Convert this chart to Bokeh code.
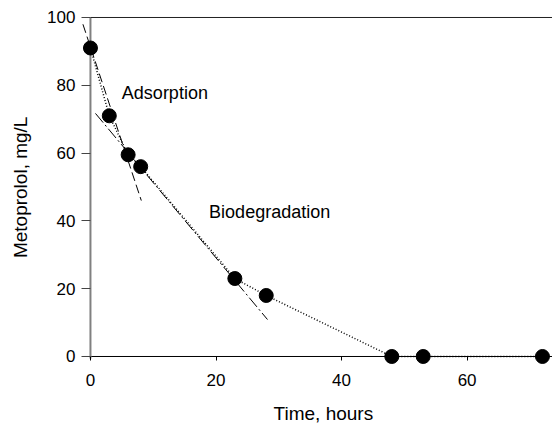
import math
from bokeh.plotting import figure
from bokeh.models import Range1d, LinearAxis, FixedTicker, Label
from bokeh.embed import file_html
from bokeh.resources import INLINE

# Data
time_h = [0, 3, 6, 8, 23, 28, 48, 53, 72]
metoprolol = [91, 71, 59.5, 56, 23, 18, 0, 0, 0]
ads_fit_x = [-1.2, 8.1]
ads_fit_y = [98, 46]
bio_fit_x = [0.8, 28.2]
bio_fit_y = [71.7, 10.9]
x_ticks = [0, 20, 40, 60]
y_ticks = [0, 20, 40, 60, 80, 100]

FONT = "Liberation Sans"

p = figure(width=552, height=426, output_backend="svg", toolbar_location=None,
           x_range=Range1d(-14.33, 73.6), y_range=Range1d(-20.65, 105.01),
           x_axis_location=None, y_axis_location=None,
           min_border_left=0, min_border_right=0, min_border_top=0,
           min_border_bottom=0)
p.outline_line_color = None
p.grid.visible = False
p.background_fill_color = "white"
p.border_fill_color = "white"

xaxis = LinearAxis(fixed_location=0, ticker=FixedTicker(ticks=x_ticks))
xaxis.axis_line_color = None
xaxis.major_tick_in = 0
xaxis.major_tick_out = 4
xaxis.minor_tick_line_color = None
xaxis.major_tick_line_color = "black"
xaxis.major_label_standoff = 14
xaxis.major_label_text_font = FONT
xaxis.major_label_text_font_size = "17px"
xaxis.major_label_text_color = "black"
p.add_layout(xaxis, "below")

yaxis = LinearAxis(fixed_location=0, ticker=FixedTicker(ticks=y_ticks))
yaxis.axis_line_color = None
yaxis.major_tick_in = 0
yaxis.major_tick_out = 9
yaxis.minor_tick_line_color = None
yaxis.major_tick_line_color = "#444444"
yaxis.major_label_standoff = 6
yaxis.major_label_text_font = FONT
yaxis.major_label_text_font_size = "17px"
yaxis.major_label_text_color = "black"
p.add_layout(yaxis, "left")

# axis titles
p.add_layout(Label(x=37.1, y=-16.9, text="Time, hours", text_font=FONT,
                   text_font_size="19px", text_align="center",
                   text_baseline="middle", text_color="black"))
p.add_layout(Label(x=-11.2, y=49.9, text="Metoprolol, mg/L", text_font=FONT,
                   text_font_size="19px", text_align="center",
                   text_baseline="middle", angle=math.pi / 2, text_color="black"))

# frame lines: x-axis line, gray y-axis line and top line
p.segment(x0=[-1.1], y0=[y_ticks[0]], x1=[p.x_range.end], y1=[y_ticks[0]],
          line_color="black", line_width=1)
p.segment(x0=[x_ticks[0]], y0=[y_ticks[0] - 0.6], x1=[x_ticks[0]], y1=[y_ticks[-1]],
          line_color="#808080", line_width=2)
p.segment(x0=[x_ticks[0]], y0=[y_ticks[-1]], x1=[p.x_range.end], y1=[y_ticks[-1]],
          line_color="#222222", line_width=1)

# connecting dotted curve
p.line(time_h, metoprolol, line_color="black", line_width=1.5, line_dash="1 2")
# adsorption fit (dashed)
p.line(ads_fit_x, ads_fit_y, line_color="black", line_width=1, line_dash="9 4")
# biodegradation fit (dash-dot)
p.line(bio_fit_x, bio_fit_y, line_color="black", line_width=1, line_dash="12 3 2 3")

p.scatter(time_h, metoprolol, size=14, fill_color="black", line_color="black")

p.add_layout(Label(x=5.0, y=77.6, text="Adsorption", text_font=FONT,
                   text_font_size="18px", text_baseline="middle", text_color="black"))
p.add_layout(Label(x=18.9, y=42.5, text="Biodegradation", text_font=FONT,
                   text_font_size="18px", text_baseline="middle", text_color="black"))

open("out.html", "w").write(file_html(p, INLINE))
